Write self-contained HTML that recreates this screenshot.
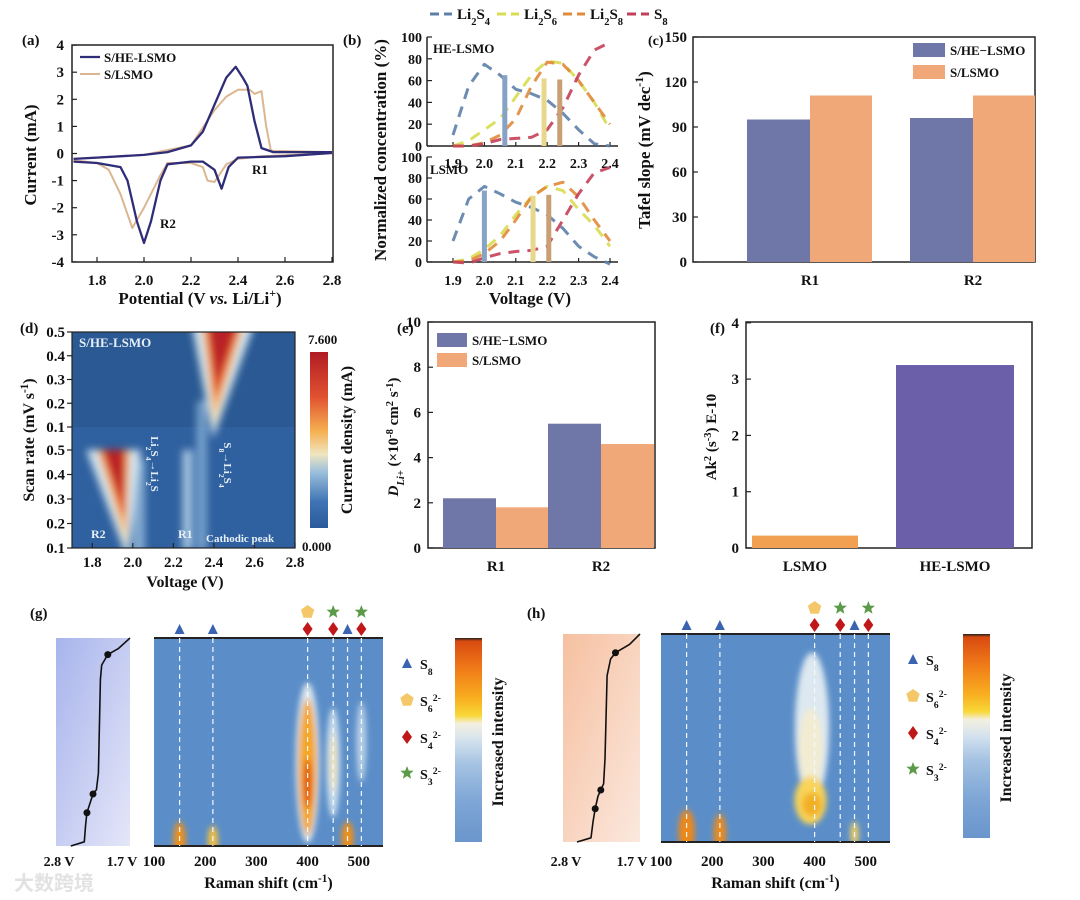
<!DOCTYPE html>
<html><head><meta charset="utf-8"><style>
html,body{margin:0;padding:0;background:#fff;}
svg{display:block;font-family:"Liberation Serif","Noto Serif CJK SC",serif;font-weight:bold;}
</style></head><body>
<svg id="fig" width="1080" height="900" viewBox="0 0 1080 900" xmlns="http://www.w3.org/2000/svg">
<defs>
<filter id="blur4" x="-50%" y="-50%" width="200%" height="200%"><feGaussianBlur stdDeviation="4"/></filter>
<filter id="blur3" x="-50%" y="-50%" width="200%" height="200%"><feGaussianBlur stdDeviation="3"/></filter>
<clipPath id="clipD"><rect x="72" y="332" width="223" height="216"/></clipPath>
<clipPath id="clipG"><rect x="154" y="638" width="229" height="208"/></clipPath>
<clipPath id="clipH"><rect x="661" y="634" width="229" height="208"/></clipPath>
<linearGradient id="cbD" x1="0" y1="0" x2="0" y2="1">
<stop offset="0" stop-color="#b01c24"/><stop offset="0.25" stop-color="#e05030"/><stop offset="0.45" stop-color="#f5b050"/><stop offset="0.58" stop-color="#f0e6c0"/><stop offset="0.68" stop-color="#9cc0dc"/><stop offset="0.85" stop-color="#3f74b4"/><stop offset="1" stop-color="#2a5a9a"/></linearGradient>
<linearGradient id="cbR" x1="0" y1="0" x2="0" y2="1">
<stop offset="0" stop-color="#202020"/><stop offset="0.015" stop-color="#d84a10"/><stop offset="0.15" stop-color="#f07a18"/><stop offset="0.3" stop-color="#f8b020"/><stop offset="0.38" stop-color="#f8d838"/><stop offset="0.42" stop-color="#f4f0e0"/><stop offset="0.5" stop-color="#d4e2ee"/><stop offset="0.62" stop-color="#a4c2e2"/><stop offset="0.8" stop-color="#7ea6d6"/><stop offset="1" stop-color="#6a96cc"/></linearGradient>
<linearGradient id="vbG" x1="0" y1="0" x2="1" y2="1"><stop offset="0" stop-color="#a8b4ec"/><stop offset="1" stop-color="#e4e6f8"/></linearGradient>
<linearGradient id="vbH" x1="0" y1="0" x2="1" y2="1"><stop offset="0" stop-color="#f6c0a0"/><stop offset="1" stop-color="#fbe8de"/></linearGradient>
</defs>
<rect x="0" y="0" width="1080" height="900" fill="#fff"/>
</svg>
<script>
// ---------- data ----------
const cvVheUp=[1.7,1.8,2.0,2.1,2.2,2.25,2.3,2.35,2.39,2.42,2.44,2.47,2.5,2.55,2.8];
const cvIheUp=[-0.2,-0.15,-0.05,0.05,0.3,0.8,1.8,2.8,3.2,2.8,2.5,1.2,0.2,0.05,0.05];
const cvVheDn=[2.8,2.6,2.4,2.36,2.33,2.3,2.25,2.2,2.1,2.07,2.03,2.0,1.97,1.93,1.9,1.8,1.7];
const cvIheDn=[0.02,-0.1,-0.15,-0.5,-1.3,-0.6,-0.3,-0.3,-0.4,-1.0,-2.5,-3.3,-2.5,-1.0,-0.5,-0.35,-0.3];
const cvVlUp=[1.7,2.0,2.2,2.3,2.35,2.4,2.45,2.47,2.5,2.52,2.54,2.8];
const cvIlUp=[-0.2,-0.05,0.3,1.6,2.1,2.35,2.35,2.2,2.3,1.0,0.1,0.05];
const cvVlDn=[2.8,2.5,2.4,2.35,2.3,2.27,2.25,2.2,2.1,2.07,2.0,1.95,1.9,1.85,1.8,1.7];
const cvIlDn=[0.02,-0.1,-0.2,-0.4,-1.05,-1.0,-0.5,-0.35,-0.35,-0.8,-2.0,-2.75,-1.5,-0.6,-0.35,-0.25];

const bV=[1.9,1.95,2.0,2.05,2.1,2.15,2.2,2.25,2.3,2.35,2.4];
const bTopS4=[10,55,75,65,52,48,42,30,15,2,0];
const bTopS6=[0,5,15,25,45,65,78,76,60,40,15];
const bTopS8l=[0,0,3,10,25,55,77,75,60,40,20];
const bTopS8=[0,0,2,6,7,8,15,35,65,88,95];
const bBotS4=[20,60,72,65,57,52,45,32,15,5,-2];
const bBotS6=[0,3,12,25,45,62,72,68,50,35,15];
const bBotS8l=[0,1,8,20,40,62,72,76,62,40,20];
const bBotS8=[0,-1,4,8,10,11,15,40,65,85,90];
const bTopBarV=[2.065,2.19,2.24];
const bTopBarH=[65,62,61];
const bBotBarV=[2.0,2.155,2.205];
const bBotBarH=[68,63,64];

const cCats=["R1","R2"];
const cHE=[95,96];
const cL=[111,111];
const cTicks=[0,30,60,90,120,150];

const eCats=["R1","R2"];
const eHE=[2.2,5.5];
const eL=[1.8,4.6];
const eTicks=[0,2,4,6,8,10];

const fCats=["LSMO","HE-LSMO"];
const fVals=[0.22,3.25];
const fTicks=[0,1,2,3,4];

const dXTicks=[1.8,2.0,2.2,2.4,2.6,2.8];
const dYTicks=["0.5","0.4","0.3","0.2","0.1","0.5","0.4","0.3","0.2","0.1"];
const dBlobApexV=[2.40,1.97];
const dBlobTopL=[2.33,1.82];
const dBlobTopR=[2.57,1.99];
const dBlobHalf=[0,1];
const dStreakV=[2.03,2.27,2.34];

const ramanTicks=[100,200,300,400,500];
const gBlobX=[400,400,400,450,450,505,150,215,478];
const gBlobY=[0.6,0.62,0.7,0.6,0.6,0.5,0.97,0.97,0.96];
const gBlobRx=[12,9,4,7,3,5,6,5,6];
const gBlobRy=[80,68,25,55,30,40,18,14,16];
const gBlobC=["#dce6ec","#f4a628","#e05418","#c8dcec","#f2e2b0","#b8d0e8","#f09018","#f4c040","#f09018"];
const hBlobX=[395,392,392,395,150,215,478];
const hBlobY=[0.45,0.55,0.8,0.82,0.95,0.96,0.96];
const hBlobRx=[17,12,16,10,8,6,4];
const hBlobRy=[75,40,24,12,22,20,12];
const hBlobC=["#dde8f0","#f2ecd2","#f8d458","#f2b028","#f08818","#f08a18","#f4d060"];
const gVolt=[2.58,2.38,2.36,2.34,2.25,2.2,2.17,2.14,2.12,2.03,1.87,1.7];
const gTime=[1.0,0.98,0.9,0.84,0.75,0.73,0.65,0.2,0.13,0.08,0.05,0.0];
const hVolt=[2.6,2.4,2.37,2.34,2.3,2.26,2.22,2.2,2.17,2.12,2.05,1.85,1.7];
const hTime=[1.0,0.98,0.9,0.84,0.78,0.75,0.72,0.6,0.2,0.12,0.09,0.05,0.0];
const gDots=[2.34,2.25,2.03];
const hDots=[2.34,2.26,2.05];

// ---------- helpers ----------
const NS="http://www.w3.org/2000/svg";
const svg=document.getElementById('fig');
function E(tag,a,name,parent){
  const el=document.createElementNS(NS,tag);
  for(const k in a) el.setAttribute(k,a[k]);
  
  
  (parent||svg).appendChild(el);
  return el;
}
function T(x,y,html,o,name,parent){
  o=o||{};
  const a={x:x,y:y,'font-size':o.size||14,fill:o.fill||'#111','text-anchor':o.anchor||'start'};
  if(o.rot!==undefined) a.transform='rotate('+o.rot+' '+x+' '+y+')';
  if(o.family) a['font-family']=o.family;
  const el=E('text',a,name,parent);
  el.innerHTML=html;
  return el;
}
function L(x1,y1,x2,y2,c,w,name,dash,parent){
  const a={x1:x1,y1:y1,x2:x2,y2:y2,stroke:c,'stroke-width':w||1.5};
  if(dash) a['stroke-dasharray']=dash;
  return E('line',a,name,parent);
}
function poly(xs,ys,fx,fy,c,w,name,dash,op){
  const pts=xs.map((v,i)=>fx(v).toFixed(1)+','+fy(ys[i]).toFixed(1)).join(' ');
  const a={points:pts,fill:'none',stroke:c,'stroke-width':w,'stroke-linejoin':'round','stroke-linecap':'butt'};
  if(dash) a['stroke-dasharray']=dash;
  if(op) a.opacity=op;
  return E('polyline',a,name);
}
const sub=s=>'<tspan baseline-shift="sub" font-size="70%">'+s+'</tspan>';
const sup=s=>'<tspan baseline-shift="super" font-size="70%">'+s+'</tspan>';

// ---------- panel a ----------
const xa=v=>73.5+(v-1.7)/0.1*23.5, ya=c=>153.5-c*27.1;
T(22,45,'(a)',{size:15},'panel-a-label');
E('rect',{x:72,y:45,width:261,height:217,fill:'none',stroke:'#222','stroke-width':1.5},'panel-a-frame');
for(let v=1.8;v<=2.81;v+=0.2){L(xa(v),262,xa(v),257,'#222',1.2,'a-x-tick');T(xa(v),285,v.toFixed(1),{size:15,anchor:'middle'},'a-x-tick-label');}
for(let c=-4;c<=4;c++){L(72,ya(c),77,ya(c),'#222',1.2,'a-y-tick');T(64,ya(c)+5,String(c),{size:15,anchor:'end'},'a-y-tick-label');}
poly(cvVlUp,cvIlUp,xa,ya,'#dcb690',2,'cv-lsmo-anodic');
poly(cvVlDn,cvIlDn,xa,ya,'#dcb690',2,'cv-lsmo-cathodic');
poly(cvVheUp,cvIheUp,xa,ya,'#2f2c78',2.3,'cv-he-lsmo-anodic');
poly(cvVheDn,cvIheDn,xa,ya,'#2f2c78',2.3,'cv-he-lsmo-cathodic');
L(80,57,100,57,'#2f2c78',2.3,'legend-he-lsmo-line');T(104,62,'S/HE-LSMO',{size:13},'legend-he-lsmo-label');
L(80,74,100,74,'#dcb690',2,'legend-lsmo-line');T(104,79,'S/LSMO',{size:13},'legend-lsmo-label');
T(252,174,'R1',{size:13},'peak-label-r1');T(160,228,'R2',{size:13},'peak-label-r2');
T(200,304,'Potential (V <tspan font-style="italic">vs.</tspan> Li/Li'+sup('+')+')',{size:17,anchor:'middle'},'a-x-axis-title');
T(36,155,'Current (mA)',{size:17,anchor:'middle',rot:-90},'a-y-axis-title');

// ---------- panel b ----------
const xb=v=>453+(v-1.9)*314;
const yt=p=>146-p*1.09, yb=p=>262-p*1.05;
T(343,45,'(b)',{size:15},'panel-b-label');
const bCols=['#5d80a8','#d8dc50','#e08a3a','#c44058'];
[[yt,37,146,168,'top'],[yb,157,262,285,'bottom']].forEach(([fy,t,b,ly,nm])=>{
  L(427,t,427,b,'#222',1.5,'b-'+nm+'-y-axis');L(427,b,618,b,'#222',1.5,'b-'+nm+'-x-axis');
  for(let p=0;p<=100;p+=20){L(427,fy(p),432,fy(p),'#222',1.2,'b-y-tick');T(422,fy(p)+5,String(p),{size:14,anchor:'end'},'b-y-tick-label');}
  for(let v=1.9;v<=2.41;v+=0.1){L(xb(v),b,xb(v),b-4,'#222',1.2,'b-x-tick');T(xb(v),ly,v.toFixed(1),{size:14,anchor:'middle'},'b-x-tick-label');}
});
const topSeries=[bTopS4,bTopS6,bTopS8l,bTopS8], botSeries=[bBotS4,bBotS6,bBotS8l,bBotS8];
const bNames=['li2s4','li2s6','li2s8','s8'];
topSeries.forEach((s,i)=>poly(bV,s,xb,yt,bCols[i],3,'b-top-curve-'+bNames[i],'11 8',0.9));
botSeries.forEach((s,i)=>poly(bV,s,xb,yb,bCols[i],3,'b-bottom-curve-'+bNames[i],'11 8',0.9));
const barCols=['#86a2c4','#e8d88c','#c8a074'];
bTopBarV.forEach((v,i)=>E('rect',{x:xb(v)-2.5,y:yt(bTopBarH[i]),width:5,height:yt(0)-yt(bTopBarH[i]),fill:barCols[i]},'b-top-marker-bar'));
bBotBarV.forEach((v,i)=>E('rect',{x:xb(v)-2.5,y:yb(bBotBarH[i]),width:5,height:yb(0)-yb(bBotBarH[i]),fill:barCols[i]},'b-bottom-marker-bar'));
T(433,53,'HE-LSMO',{size:13},'b-top-title');T(430,174,'LSMO',{size:13},'b-bottom-title');
T(530,304,'Voltage (V)',{size:17,anchor:'middle'},'b-x-axis-title');
T(386,150,'Normalized concentration (%)',{size:17,anchor:'middle',rot:-90},'b-y-axis-title');
const bLegX=[430,497,563,627], bLegT=['Li'+sub('2')+'S'+sub('4'),'Li'+sub('2')+'S'+sub('6'),'Li'+sub('2')+'S'+sub('8'),'S'+sub('8')];
bLegX.forEach((x,i)=>{L(x,14,x+22,14,bCols[i],3,'b-legend-swatch','9 5');T(x+27,19,bLegT[i],{size:15},'b-legend-label');});

// ---------- panel c ----------
const yc=v=>262-v*1.5;
T(648,45,'(c)',{size:14},'panel-c-label');
E('rect',{x:693,y:37,width:342,height:225,fill:'none',stroke:'#222','stroke-width':1.5},'panel-c-frame');
cTicks.forEach(t=>{L(693,yc(t),698,yc(t),'#222',1.2,'c-y-tick');T(687,yc(t)+5,String(t),{size:15,anchor:'end'},'c-y-tick-label');});
const cCenters=[810,973];
cCats.forEach((c,i)=>{
  E('rect',{x:cCenters[i]-63,y:yc(cHE[i]),width:63,height:yc(0)-yc(cHE[i]),fill:'#6f77a8'},'c-bar-he-'+c);
  E('rect',{x:cCenters[i],y:yc(cL[i]),width:62,height:yc(0)-yc(cL[i]),fill:'#f0a878'},'c-bar-lsmo-'+c);
  T(cCenters[i],285,c,{size:15,anchor:'middle'},'c-x-tick-label');
});
E('rect',{x:913,y:43,width:32,height:14,fill:'#6f77a8'},'c-legend-he-swatch');T(950,55,'S/HE−LSMO',{size:13},'c-legend-he-label');
E('rect',{x:913,y:65,width:32,height:14,fill:'#f0a878'},'c-legend-lsmo-swatch');T(950,77,'S/LSMO',{size:13},'c-legend-lsmo-label');
T(650,150,'Tafel slope (mV dec'+sup('-1')+')',{size:17,anchor:'middle',rot:-90},'c-y-axis-title');

// ---------- panel d ----------
const xd=v=>72+(v-1.7)/1.1*223;
const halfTop=[332,450], halfH=[95,98];
const ydRow=(r,h)=>halfTop[h]+r*halfH[h];
T(20,333,'(d)',{size:15},'panel-d-label');
const gD=E('g',{'clip-path':'url(#clipD)'},'d-heatmap');
E('rect',{x:72,y:332,width:223,height:216,fill:'#2f609f'},'d-heatmap-bg',gD);
E('rect',{x:72,y:332,width:223,height:95,fill:'#2a5993'},'d-top-half',gD);
const gDb=E('g',{filter:'url(#blur4)'},'d-heatmap-blobs',gD);
E('rect',{x:xd(dStreakV[0])-6,y:ydRow(0.1,1),width:12,height:100,fill:'#a8cae6',opacity:0.7},'d-light-streak',gDb);
E('rect',{x:xd(dStreakV[1])-5,y:ydRow(0.0,1),width:10,height:100,fill:'#b8d6ec',opacity:0.85},'d-light-streak',gDb);
E('rect',{x:xd(dStreakV[2])-5,y:ydRow(-0.5,1),width:10,height:150,fill:'#8fb8dc',opacity:0.75},'d-light-streak',gDb);
// layers: extra width each side (V), apex row, colour
const blobLayers=[[0.05,1.12,'#cfe3f0'],[0.0,1.0,'#f6d890'],[-0.012,0.85,'#f09048'],[-0.025,0.7,'#d8402c'],[-0.04,0.5,'#b82228']];
dBlobApexV.forEach((av,i)=>{
  const h=dBlobHalf[i];
  blobLayers.forEach(([ext,ar,c])=>{
    const l=dBlobTopL[i]-ext, r=dBlobTopR[i]+ext;
    const topY=ydRow(h==0?-0.2:0.0,h);
    const apexY=ydRow(ar,h);
    const ax=av+((l+r)/2-av)*(1-ar)*0.6;
    E('polygon',{points:xd(l)+','+topY+' '+xd(r)+','+topY+' '+xd(ax)+','+apexY,fill:c},'d-peak-blob-layer',gDb);
  });
});
E('rect',{x:72,y:332,width:223,height:216,fill:'none',stroke:'#222','stroke-width':1.2},'panel-d-frame');
dXTicks.forEach(v=>{L(xd(v),548,xd(v),543,'#222',1.2,'d-x-tick');T(xd(v),567,v.toFixed(1),{size:15,anchor:'middle'},'d-x-tick-label');});
dYTicks.forEach((t,i)=>{const y=i<5?332+i*23.75:450+(i-5)*24.5;L(72,y,67,y,'#222',1.2,'d-y-tick');T(65,y+5,t,{size:15,anchor:'end'},'d-y-tick-label');});
T(79,347,'S/HE-LSMO',{size:13,fill:'#e4eef8'},'d-title');
T(91,538,'R2',{size:12,fill:'#e8f0f8'},'d-r2-label');T(178,538,'R1',{size:12,fill:'#e8f0f8'},'d-r1-label');
T(206,542,'Cathodic peak',{size:11,fill:'#e8f0f8'},'d-cathodic-label');
T(151,464,'Li'+sub('2')+'S'+sub('4')+'→Li'+sub('2')+'S',{size:11,fill:'#e8f0f8',anchor:'middle',rot:90},'d-reaction-r2');
T(224,465,'S'+sub('8')+'→Li'+sub('2')+'S'+sub('4'),{size:11,fill:'#e8f0f8',anchor:'middle',rot:90},'d-reaction-r1');
E('rect',{x:310,y:352,width:18,height:176,fill:'url(#cbD)'},'d-colorbar');
T(308,344,'7.600',{size:13},'d-colorbar-max');T(302,551,'0.000',{size:13},'d-colorbar-min');
T(352,440,'Current density (mA)',{size:16,anchor:'middle',rot:-90},'d-colorbar-title');
T(185,587,'Voltage (V)',{size:16,anchor:'middle'},'d-x-axis-title');
T(34,440,'Scan rate (mV s'+sup('-1')+')',{size:16,anchor:'middle',rot:-90},'d-y-axis-title');

// ---------- panel e ----------
const ye=v=>548-v*22.6;
T(397,333,'(e)',{size:15},'panel-e-label');
E('rect',{x:428,y:322,width:227,height:226,fill:'none',stroke:'#222','stroke-width':1.5},'panel-e-frame');
eTicks.forEach(t=>{L(428,ye(t),433,ye(t),'#222',1.2,'e-y-tick');T(421,ye(t)+5,String(t),{size:15,anchor:'end'},'e-y-tick-label');});
const eCenters=[496,601];
eCats.forEach((c,i)=>{
  E('rect',{x:eCenters[i]-53,y:ye(eHE[i]),width:53,height:ye(0)-ye(eHE[i]),fill:'#6f77a8'},'e-bar-he-'+c);
  E('rect',{x:eCenters[i],y:ye(eL[i]),width:53,height:ye(0)-ye(eL[i]),fill:'#f0a878'},'e-bar-lsmo-'+c);
  T(eCenters[i],571,c,{size:15,anchor:'middle'},'e-x-tick-label');
});
E('rect',{x:437,y:333,width:30,height:14,fill:'#6f77a8'},'e-legend-he-swatch');T(472,345,'S/HE−LSMO',{size:13},'e-legend-he-label');
E('rect',{x:437,y:353,width:30,height:14,fill:'#f0a878'},'e-legend-lsmo-swatch');T(472,365,'S/LSMO',{size:13},'e-legend-lsmo-label');
T(398,437,'<tspan font-style="italic">D</tspan>'+sub('<tspan font-style="italic">Li+</tspan>')+' (×10'+sup('-8')+' cm'+sup('2')+' s'+sup('-1')+')',{size:15,anchor:'middle',rot:-90},'e-y-axis-title');

// ---------- panel f ----------
const yf=v=>548-v*56.3;
T(710,333,'(f)',{size:15},'panel-f-label');
E('rect',{x:746,y:322,width:286,height:226,fill:'none',stroke:'#222','stroke-width':1.5},'panel-f-frame');
fTicks.forEach(t=>{L(746,yf(t),751,yf(t),'#222',1.2,'f-y-tick');T(739,yf(t)+5,String(t),{size:15,anchor:'end'},'f-y-tick-label');});
const fCenters=[805,955], fW=[106,118], fCols=['#f0a050','#6a5fa8'];
fCats.forEach((c,i)=>{
  E('rect',{x:fCenters[i]-fW[i]/2,y:yf(fVals[i]),width:fW[i],height:yf(0)-yf(fVals[i]),fill:fCols[i]},'f-bar-'+c.toLowerCase());
  T(fCenters[i],571,c,{size:15,anchor:'middle'},'f-x-tick-label');
});
T(716,437,'Ak'+sup('2')+' (s'+sup('-3')+') E-10',{size:15,anchor:'middle',rot:-90},'f-y-axis-title');

// ---------- panels g,h ----------
function markers(type,x,y,name){
  if(type==='tri') E('polygon',{points:(x-5)+','+(y+5)+' '+(x+5)+','+(y+5)+' '+x+','+(y-5),fill:'#3a64b0'},name);
  else if(type==='dia') E('polygon',{points:x+','+(y-7)+' '+(x+5)+','+y+' '+x+','+(y+7)+' '+(x-5)+','+y,fill:'#c01818'},name);
  else if(type==='pent'){let p=[];for(let k=0;k<5;k++){const a=-Math.PI/2+k*2*Math.PI/5;p.push((x+7*Math.cos(a)).toFixed(1)+','+(y+7*Math.sin(a)).toFixed(1));}E('polygon',{points:p.join(' '),fill:'#f4c868'},name);}
  else {let p=[];for(let k=0;k<10;k++){const r=k%2?3:7,a=-Math.PI/2+k*Math.PI/5;p.push((x+r*Math.cos(a)).toFixed(1)+','+(y+r*Math.sin(a)).toFixed(1));}E('polygon',{points:p.join(' '),fill:'#5a9a48'},name);}
}
function raman(cfg){
  const {pl,vx0,vx1,top,bot,hx0,hx1,cbx,legx,clip,blobs,volt,time,dots,vgrad,bg,lab}=cfg;
  T(lab[0],lab[1],pl==='g'?'(g)':'(h)',{size:15},'panel-'+pl+'-label');
  E('rect',{x:vx0,y:top,width:vx1-vx0,height:bot-top,fill:vgrad},pl+'-voltage-box');
  const vX=v=>vx0+(2.8-v)/1.1*(vx1-vx0), vY=t=>top+t*(bot-top);
  poly(volt,time,vX,vY,'#111',1.6,pl+'-voltage-curve');
  dots.forEach(d=>{let i=volt.findIndex(v=>v<=d);if(i<0)i=volt.length-1;E('circle',{cx:vX(volt[i]),cy:vY(time[i]),r:3.5,fill:'#111'},pl+'-voltage-dot');});
  T(vx0+3,cfg.tickY,'2.8 V',{size:14,anchor:'middle'},pl+'-voltage-start');
  T(vx1-8,cfg.tickY,'1.7 V',{size:14,anchor:'middle'},pl+'-voltage-end');
  const rx=s=>hx0+(s-100)*0.512;
  const g=E('g',{'clip-path':'url(#'+clip+')'},pl+'-raman-heatmap');
  E('rect',{x:hx0,y:top,width:hx1-hx0,height:bot-top,fill:bg},pl+'-heatmap-bg',g);
  const gb=E('g',{filter:'url(#blur3)'},pl+'-heatmap-peaks',g);
  blobs.x.forEach((s,i)=>E('ellipse',{cx:rx(s),cy:top+blobs.y[i]*(bot-top),rx:blobs.rx[i],ry:blobs.ry[i],fill:blobs.c[i]},pl+'-raman-peak',gb));
  L(hx0,top,hx1,top,'#222',2,pl+'-heatmap-top-edge');L(hx0,bot,hx1,bot,'#222',2,pl+'-heatmap-bottom-edge');
  const peakPos=[150,215,400,450,478,505], peakMk=['tri','tri','dia','dia','tri','dia'];
  peakPos.forEach((s,i)=>{L(rx(s),top,rx(s),bot,'#f4f8fc',1.2,pl+'-peak-guide','5 4');markers(peakMk[i],rx(s),top-9,pl+'-peak-marker');});
  markers('pent',rx(400),top-26,pl+'-peak-marker-s6');markers('star',rx(450),top-26,pl+'-peak-marker-s3');markers('star',rx(505),top-26,pl+'-peak-marker-s3');
  ramanTicks.forEach(t=>T(rx(t),cfg.tickY,String(t),{size:15,anchor:'middle'},pl+'-x-tick-label'));
  T((hx0+hx1)/2,cfg.tickY+22,'Raman shift (cm'+sup('-1')+')',{size:16,anchor:'middle'},pl+'-x-axis-title');
  E('rect',{x:cbx,y:top,width:27,height:bot-top-4,fill:'url(#cbR)'},pl+'-colorbar');
  T(cbx+48,top+(bot-top)/2,'Increased intensity',{size:16,anchor:'middle',rot:-90},pl+'-colorbar-title');
  const ly=[top+25,top+62,top+99,top+135], lt=['S'+sub('8'),'S'+sub('6')+sup('2-'),'S'+sub('4')+sup('2-'),'S'+sub('3')+sup('2-')], lm=['tri','pent','dia','star'];
  ly.forEach((y,i)=>{markers(lm[i],legx,y,pl+'-legend-marker');T(legx+13,y+6,lt[i],{size:14},pl+'-legend-label');});
}
raman({pl:'g',vx0:56,vx1:130,top:638,bot:846,hx0:154,hx1:383,cbx:455,legx:407,clip:'clipG',lab:[30,618],tickY:866,
  blobs:{x:gBlobX,y:gBlobY,rx:gBlobRx,ry:gBlobRy,c:gBlobC},volt:gVolt,time:gTime,dots:gDots,vgrad:'url(#vbG)',bg:'#5b8ec8'});
raman({pl:'h',vx0:563,vx1:640,top:634,bot:842,hx0:661,hx1:890,cbx:963,legx:913,clip:'clipH',lab:[527,618],tickY:866,
  blobs:{x:hBlobX,y:hBlobY,rx:hBlobRx,ry:hBlobRy,c:hBlobC},volt:hVolt,time:hTime,dots:hDots,vgrad:'url(#vbH)',bg:'#5b8ec8'});
T(14,890,'大数跨境',{size:20,fill:'#e2e2e2',family:'"Noto Sans CJK SC",sans-serif'},'watermark');
</script>
</body></html>
